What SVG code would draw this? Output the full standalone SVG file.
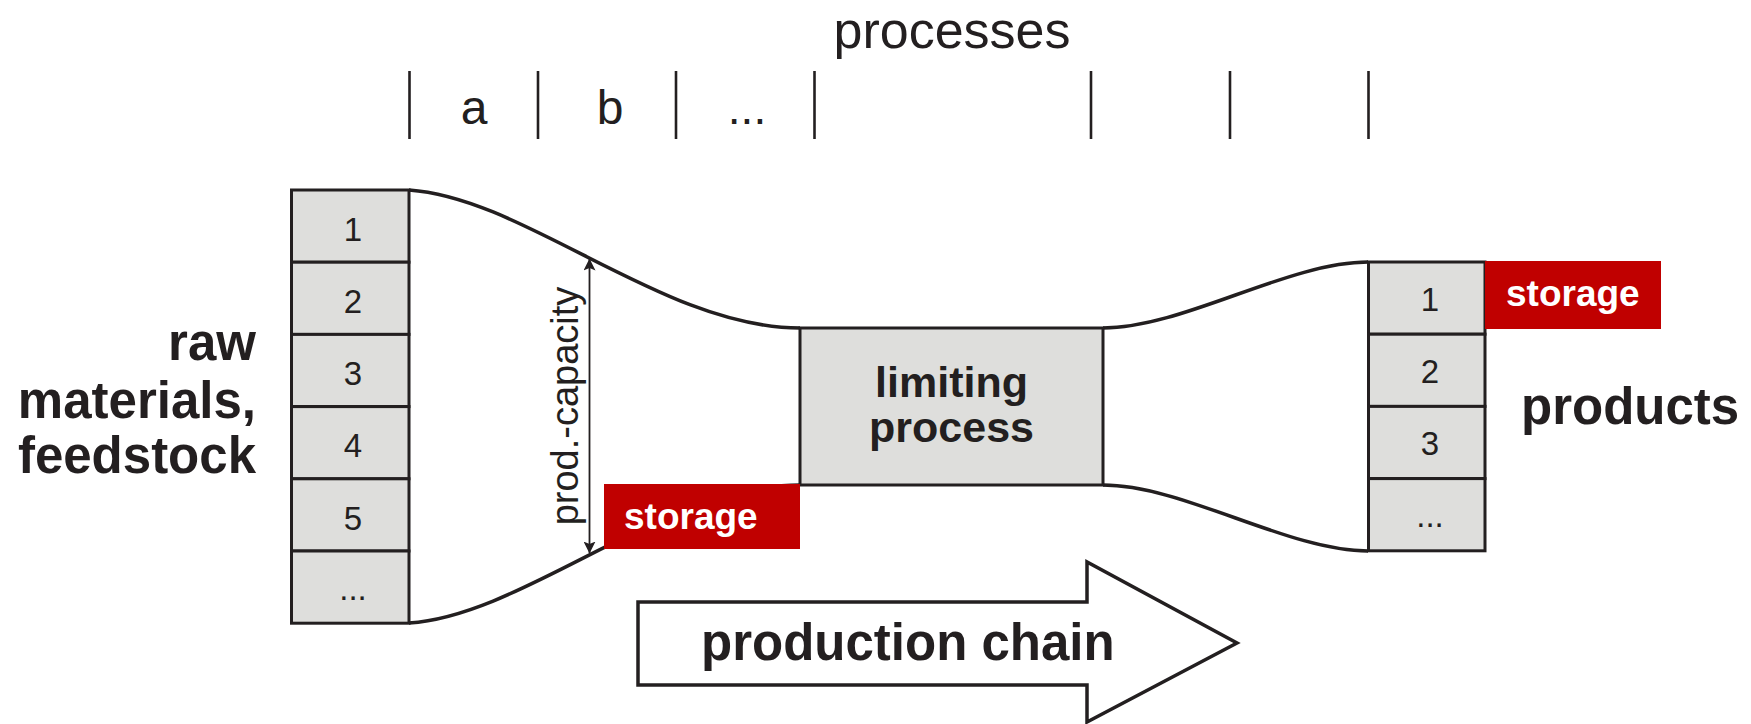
<svg xmlns="http://www.w3.org/2000/svg" width="1751" height="724" viewBox="0 0 1751 724">
  <style>
    text { font-family: "Liberation Sans", Arial, Helvetica, sans-serif; fill: #231f20; }
    .bold { font-weight: bold; }
    .big { font-size: 51px; }
    .cell { fill: #dededc; stroke: #231f20; stroke-width: 3; }
    .num { font-size: 33px; text-anchor: middle; }
    .flow { fill: none; stroke: #231f20; stroke-width: 3.5; }
    .tick { stroke: #231f20; stroke-width: 2.6; }
    .store { fill: #c00000; }
    .storetxt { fill: #ffffff; font-size: 37px; font-weight: bold; }
  </style>
  <defs>
    <marker id="ah" viewBox="0 0 12 12" refX="11.5" refY="6" markerWidth="12" markerHeight="12" markerUnits="userSpaceOnUse" orient="auto-start-reverse">
      <path d="M0,0 L12,6 L0,12 L2.5,6 Z" fill="#231f20"/>
    </marker>
  </defs>

  <!-- process header -->
  <g id="header">
    <text x="952" y="48" font-size="52" text-anchor="middle">processes</text>
    <line class="tick" x1="409.5" y1="71" x2="409.5" y2="139"/>
    <line class="tick" x1="538" y1="71" x2="538" y2="139"/>
    <line class="tick" x1="676" y1="71" x2="676" y2="139"/>
    <line class="tick" x1="814.5" y1="71" x2="814.5" y2="139"/>
    <line class="tick" x1="1091" y1="71" x2="1091" y2="139"/>
    <line class="tick" x1="1230" y1="71" x2="1230" y2="139"/>
    <line class="tick" x1="1368.5" y1="71" x2="1368.5" y2="139"/>
    <text x="474" y="124" font-size="48" text-anchor="middle">a</text>
    <text x="610" y="124" font-size="48" text-anchor="middle">b</text>
    <text x="747" y="124" font-size="46" text-anchor="middle">...</text>
  </g>

  <!-- flow outline (funnel) -->
  <g id="connectors">
    <path class="flow" d="M409,190 C526,198 663,328 800,328"/>
    <path class="flow" d="M409,623 C526,615 663,485 800,485"/>
    <path class="flow" d="M1103,328 C1183,328 1288,262 1368,262"/>
    <path class="flow" d="M1103,485 C1183,485 1288,551 1368,551"/>
  </g>

  <!-- raw materials stack -->
  <g id="raw-stack">
    <rect class="cell" x="291.5" y="190" width="117.5" height="72.2"/>
    <rect class="cell" x="291.5" y="262.2" width="117.5" height="72.2"/>
    <rect class="cell" x="291.5" y="334.4" width="117.5" height="72.2"/>
    <rect class="cell" x="291.5" y="406.6" width="117.5" height="72.2"/>
    <rect class="cell" x="291.5" y="478.8" width="117.5" height="72.2"/>
    <rect class="cell" x="291.5" y="551" width="117.5" height="72.2"/>
    <text class="num" x="353" y="241">1</text>
    <text class="num" x="353" y="313">2</text>
    <text class="num" x="353" y="385">3</text>
    <text class="num" x="353" y="457">4</text>
    <text class="num" x="353" y="530">5</text>
    <text class="num" x="353" y="600">...</text>
  </g>

  <g id="raw-label">
    <text class="bold big" x="256" y="360" text-anchor="end">raw</text>
    <text class="bold big" x="256" y="418" text-anchor="end">materials,</text>
    <text class="bold big" x="256" y="473" text-anchor="end">feedstock</text>
  </g>

  <!-- bottleneck -->
  <g id="limiting-process">
    <rect class="cell" x="800" y="328" width="303" height="157"/>
    <text class="bold" x="951.5" y="397" font-size="43" text-anchor="middle">limiting</text>
    <text class="bold" x="951.5" y="442" font-size="43" text-anchor="middle">process</text>
  </g>

  <g id="storage-left">
    <rect class="store" x="604" y="484" width="196" height="65"/>
    <text class="storetxt" x="624" y="529">storage</text>
  </g>

  <!-- capacity dimension -->
  <g id="capacity">
    <line x1="589.5" y1="259" x2="589.5" y2="553" stroke="#231f20" stroke-width="1.8" marker-start="url(#ah)" marker-end="url(#ah)"/>
    <text x="578" y="406" font-size="38" text-anchor="middle" transform="rotate(-90 578 406)">prod.-capacity</text>
  </g>

  <!-- products stack -->
  <g id="product-stack">
    <rect class="cell" x="1368.5" y="262" width="116.5" height="72.2"/>
    <rect class="cell" x="1368.5" y="334.2" width="116.5" height="72.2"/>
    <rect class="cell" x="1368.5" y="406.4" width="116.5" height="72.2"/>
    <rect class="cell" x="1368.5" y="478.6" width="116.5" height="72.2"/>
    <text class="num" x="1430" y="311">1</text>
    <text class="num" x="1430" y="383">2</text>
    <text class="num" x="1430" y="455">3</text>
    <text class="num" x="1430" y="527">...</text>
  </g>

  <g id="storage-right">
    <rect class="store" x="1485" y="261" width="176" height="68"/>
    <text class="storetxt" x="1506" y="306">storage</text>
  </g>

  <g id="products-label">
    <text class="bold big" x="1521" y="424">products</text>
  </g>

  <!-- direction arrow -->
  <g id="production-chain">
    <path d="M638,602 H1087 V562 L1237,643 L1087,722 V685 H638 Z" fill="#ffffff" stroke="#231f20" stroke-width="3.5" stroke-linejoin="miter"/>
    <text class="bold big" x="701" y="660">production chain</text>
  </g>
</svg>
